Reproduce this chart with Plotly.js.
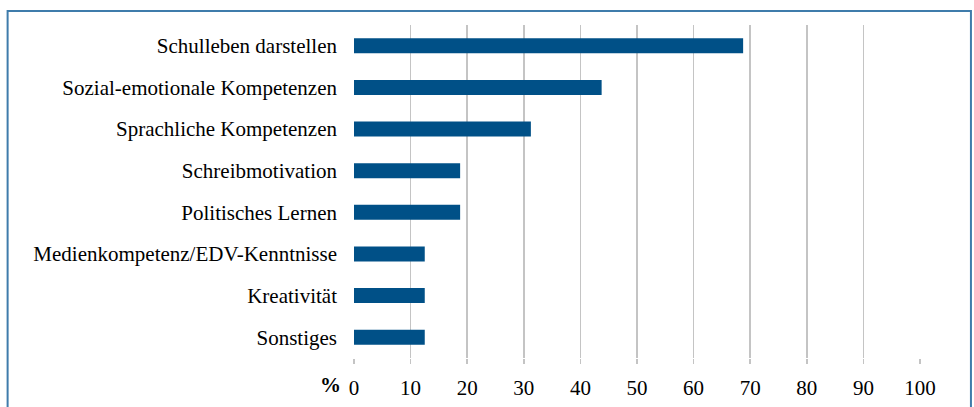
<!DOCTYPE html>
<html>
<head>
<meta charset="utf-8">
<script src="https://cdn.plot.ly/plotly-3.0.1.min.js"></script>
<style>
  html, body { margin: 0; padding: 0; background: #ffffff; }
  #chart { width: 974px; height: 407px; }
</style>
</head>
<body>
<div id="chart"></div>
<script>
const categories = [
  "Schulleben darstellen",
  "Sozial-emotionale Kompetenzen",
  "Sprachliche Kompetenzen",
  "Schreibmotivation",
  "Politisches Lernen",
  "Medienkompetenz/EDV-Kenntnisse",
  "Kreativität",
  "Sonstiges"
];
const values = [68.75, 43.75, 31.25, 18.75, 18.75, 12.5, 12.5, 12.5];
const tickValues = [0, 10, 20, 30, 40, 50, 60, 70, 80, 90, 100];
const tickLabels = ["0", "10", "20", "30", "40", "50", "60", "70", "80", "90", "100"];

const font = "'Liberation Serif', 'DejaVu Serif', serif";

const trace = {
  type: "bar",
  orientation: "h",
  y: categories,
  x: values,
  marker: { color: "#005087", line: { width: 0 } },
  hoverinfo: "x+y"
};

const layout = {
  width: 974,
  height: 407,
  margin: { l: 354, r: 54, t: 25, b: 49 },
  paper_bgcolor: "#ffffff",
  plot_bgcolor: "#ffffff",
  showlegend: false,
  bargap: 0.64,
  font: { family: font, size: 21, color: "#000000" },
  xaxis: {
    range: [0, 100],
    tickvals: tickValues,
    ticktext: tickLabels,
    showgrid: true,
    gridcolor: "#c4c4c4",
    gridwidth: 1.5,
    zeroline: false,
    showline: false,
    ticks: "outside",
    ticklen: 5,
    tickcolor: "#c4c4c4",
    tickwidth: 1.5,
    ticklabelstandoff: 6,
    tickfont: { family: font, size: 21, color: "#000000" },
    fixedrange: true
  },
  yaxis: {
    autorange: "reversed",
    type: "category",
    showgrid: false,
    zeroline: false,
    showline: false,
    ticks: "",
    ticklabelstandoff: 16,
    tickfont: { family: font, size: 21, color: "#000000" },
    fixedrange: true
  },
  annotations: [{
    text: "<b>%</b>",
    xref: "paper", yref: "paper",
    x: -0.042, y: -0.08,
    xanchor: "center", yanchor: "middle",
    showarrow: false,
    font: { family: font, size: 21, color: "#000000" }
  }],
  shapes: [{
    type: "rect",
    xref: "paper", yref: "paper",
    x0: -0.612, x1: 1.09,
    y0: -0.3, y1: 1.042,
    line: { color: "#3f7cab", width: 2 },
    fillcolor: "rgba(0,0,0,0)",
    layer: "below"
  }]
};

Plotly.newPlot("chart", [trace], layout, { displayModeBar: false, staticPlot: true });
</script>
</body>
</html>
